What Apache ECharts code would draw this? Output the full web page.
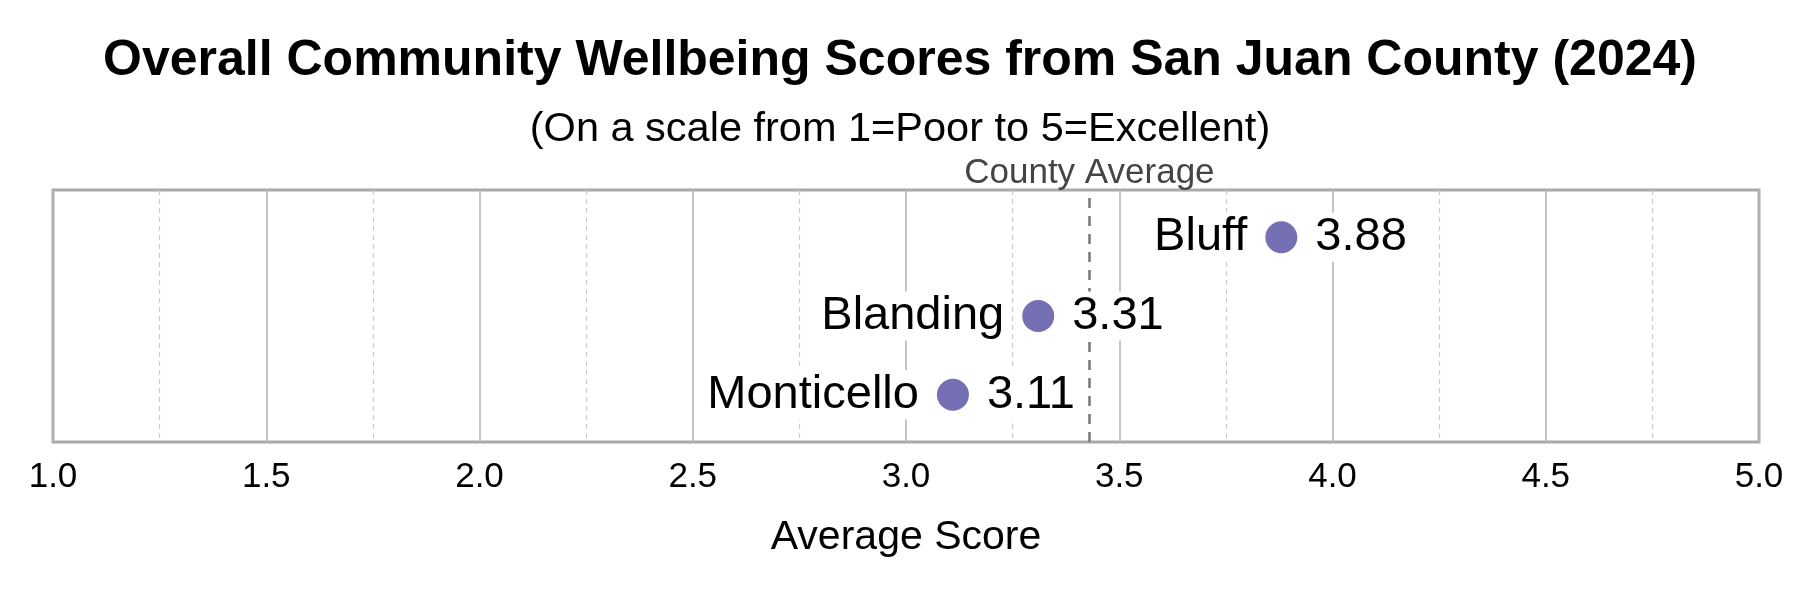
<!DOCTYPE html>
<html>
<head>
<meta charset="utf-8">
<script src="https://cdn.jsdelivr.net/npm/echarts@6/dist/echarts.min.js"></script>
<style>
html,body{margin:0;padding:0;background:#fff;}
#chart{width:1800px;height:600px;}
</style>
</head>
<body>
<div id="chart"></div>
<script>
const communities = ['Monticello', 'Blanding', 'Bluff'];
const scores = [3.11, 3.31, 3.88];
const countyAverage = 3.43;
const xTicks = [1.0, 1.5, 2.0, 2.5, 3.0, 3.5, 4.0, 4.5, 5.0];

const FONT = "'Liberation Sans', Arial, Helvetica, sans-serif";
const points = communities.map((c, i) => [scores[i], i, c]);

const chart = echarts.init(document.getElementById('chart'), null, {renderer: 'canvas'});
chart.setOption({
  backgroundColor: '#ffffff',
  animation: false,
  title: [
    {
      text: 'Overall Community Wellbeing Scores from San Juan County (2024)',
      left: 'center', top: 31,
      textStyle: {fontFamily: FONT, fontSize: 50, fontWeight: 'bold', color: '#000'}
    },
    {
      text: '(On a scale from 1=Poor to 5=Excellent)',
      left: 'center', top: 104,
      textStyle: {fontFamily: FONT, fontSize: 41.5, fontWeight: 'normal', color: '#000'}
    }
  ],
  grid: {
    left: 53, right: 41, top: 190, bottom: 158,
    show: true, borderColor: '#aaaaaa', borderWidth: 3, containLabel: false
  },
  xAxis: {
    type: 'value', min: xTicks[0], max: xTicks[xTicks.length - 1], interval: 0.5,
    name: 'Average Score', nameLocation: 'middle', nameGap: 75,
    nameTextStyle: {fontFamily: FONT, fontSize: 41, color: '#000'},
    axisLine: {show: false},
    axisTick: {show: false},
    axisLabel: {
      fontFamily: FONT, fontSize: 35, color: '#000', margin: 18,
      formatter: v => v.toFixed(1)
    },
    splitLine: {show: true, lineStyle: {color: '#b5b5b5', width: 1.6}},
    minorTick: {show: false, splitNumber: 2},
    minorSplitLine: {show: true, lineStyle: {color: '#cccccc', width: 1.2, type: [5, 4]}}
  },
  yAxis: {
    type: 'value', min: -0.6, max: 2.6, show: false,
    splitLine: {show: false}
  },
  series: [
    {
      type: 'scatter',
      data: points,
      symbol: 'circle',
      symbolSize: 32,
      itemStyle: {color: '#7570b3', opacity: 1},
      label: {
        show: true, position: 'left', distance: 16,
        fontFamily: FONT, fontSize: 47, color: '#000000', opacity: 1,
        backgroundColor: '#ffffff', padding: [1, 2],
        formatter: p => p.data[2]
      },
      markLine: {
        silent: true,
        z: 2,
        symbol: ['none', 'none'],
        lineStyle: {color: '#777777', width: 2.5, type: [10, 8]},
        label: {
          show: true, position: 'end', distance: -1,
          fontFamily: FONT, fontSize: 35, color: '#444444',
          formatter: 'County Average'
        },
        data: [{xAxis: countyAverage}]
      },
      z: 3
    },
    {
      type: 'scatter',
      data: points,
      symbol: 'circle',
      symbolSize: 32,
      itemStyle: {color: 'rgba(255,255,255,0)'},
      label: {
        show: true, position: 'right', distance: 16,
        fontFamily: FONT, fontSize: 47, color: '#000000', opacity: 1,
        backgroundColor: '#ffffff', padding: [1, 2],
        formatter: p => p.data[0].toFixed(2)
      },
      z: 4
    }
  ]
});
</script>
</body>
</html>
